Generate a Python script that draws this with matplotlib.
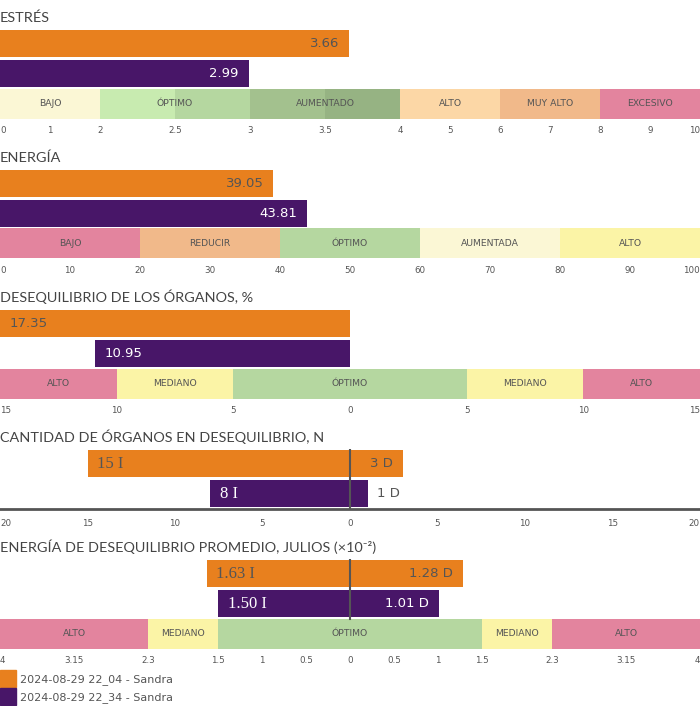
import numpy as np
import matplotlib.pyplot as plt
from matplotlib.patches import Patch

# ── Data ─────────────────────────────────────────────────────────────────────
SERIES = ["2024-08-29 22_04 - Sandra", "2024-08-29 22_34 - Sandra"]

stress = [3.66, 2.99]
energy = [39.05, 43.81]
organ_pct = [17.35, 10.95]          # left side only
organ_n_left = [15, 8]
organ_n_right = [3, 1]
imb_left = [1.63, 1.50]
imb_right = [1.28, 1.01]

stress_ticks = [0, 1, 2, 2.5, 3, 3.5, 4, 5, 6, 7, 8, 9, 10]
stress_zone_edges = [0, 2, 3, 4, 6, 8, 10]
stress_zone_names = ["BAJO", "ÓPTIMO", "AUMENTADO", "ALTO", "MUY ALTO", "EXCESIVO"]
stress_fill_edges = [0, 2, 2.5, 3, 3.5, 4, 6, 8, 10]

energy_ticks = list(range(0, 101, 10))
energy_zone_edges = [0, 20, 40, 60, 80, 100]
energy_zone_names = ["BAJO", "REDUCIR", "ÓPTIMO", "AUMENTADA", "ALTO"]

pct_ticks = [-15, -10, -5, 0, 5, 10, 15]
pct_zone_edges = [-15, -10, -5, 5, 10, 15]
pct_zone_names = ["ALTO", "MEDIANO", "ÓPTIMO", "MEDIANO", "ALTO"]

n_ticks = [-20, -15, -10, -5, 0, 5, 10, 15, 20]

imb_ticks = [-4, -3.15, -2.3, -1.5, -1, -0.5, 0, 0.5, 1, 1.5, 2.3, 3.15, 4]
imb_zone_edges = [-4, -2.3, -1.5, 1.5, 2.3, 4]
imb_zone_names = ["ALTO", "MEDIANO", "ÓPTIMO", "MEDIANO", "ALTO"]

# ── Style ────────────────────────────────────────────────────────────────────
ORANGE = "#E8801E"
PURPLE = "#481668"
TEXT = "#555555"
TITLE = "#444444"
PINK, PEACH, LORANGE = "#E3849E", "#F1B98A", "#FCD7A6"
CREAM, YELLOW = "#FBF7D5", "#FBF4A6"
LGREEN, GREEN, DGREEN, DDGREEN = "#C8EBB0", "#B5D7A0", "#A3C18E", "#96B383"

stress_fill_colors = [CREAM, LGREEN, GREEN, DGREEN, DDGREEN, LORANGE, PEACH, PINK]
energy_zone_colors = [PINK, PEACH, GREEN, CREAM, YELLOW]
sym_zone_colors = [PINK, YELLOW, GREEN, YELLOW, PINK]

W, H = 700, 706
fig = plt.figure(figsize=(W / 100, H / 100), dpi=100)
SANS = ["DejaVu Sans"]
TITLE_FONT = ["Lato", "DejaVu Sans"]
SERIF = ["Liberation Serif", "DejaVu Serif"]


def piecewise(xp, fp):
    def fwd(x):
        x = np.asarray(x, float)
        return np.sign(x) * np.interp(np.abs(x), xp, fp)

    def inv(y):
        y = np.asarray(y, float)
        return np.sign(y) * np.interp(np.abs(y), fp, xp)
    return fwd, inv


def make_axes(top, nrows, title, scale=None):
    h = 30 * nrows
    ax = fig.add_axes([0, 1 - (top - 1.5 + h) / H, 1, h / H])
    if scale is not None:
        ax.set_xscale("function", functions=scale)
    ax.set_ylim(nrows - 0.5, -0.5)
    for s in ax.spines.values():
        s.set_visible(False)
    ax.set_yticks([])
    ax.tick_params(axis="x", length=0, pad=5.5, labelsize=6.3, labelcolor=TEXT)
    fig.text(0.0, 1 - (top - 8) / H, title, va="baseline", ha="left",
             fontsize=10.4, color=TITLE, family=TITLE_FONT)
    return ax


def set_ticks(ax, ticks, labels):
    ax.set_xticks(ticks)
    ax.set_xticklabels(labels, family=SANS)
    tl = ax.get_xticklabels()
    tl[0].set_ha("left")
    tl[-1].set_ha("right")


def fmt(v):
    v = abs(v)
    return f"{v:g}"


def band(ax, fill_edges, fill_colors, zone_edges, zone_names, fwd=None, inv=None):
    for a, b, c in zip(fill_edges[:-1], fill_edges[1:], fill_colors):
        ax.barh(2, b - a, left=a, height=1.0, color=c, linewidth=0)
    for a, b, name in zip(zone_edges[:-1], zone_edges[1:], zone_names):
        mid = (a + b) / 2 if fwd is None else float(inv((fwd(a) + fwd(b)) / 2))
        ax.text(mid, 2, name, ha="center", va="center", fontsize=6.7,
                color=TEXT, family=SANS)


def label(ax, x, row, txt, side, color, family=SANS, size=9.5):
    off = -7 if side == "right" else 7
    ax.annotate(txt, (x, row), xytext=(off, 0), textcoords="offset points",
                ha=side, va="center", color=color, fontsize=size, family=family,
                annotation_clip=False)


colors = [ORANGE, PURPLE]
txt_colors = [TEXT, "white"]

# ── ESTRÉS ───────────────────────────────────────────────────────────────────
s_fwd, s_inv = piecewise([0, 2, 4, 10], [0, 100, 400, 700])
ax = make_axes(30, 3, "ESTRÉS", (s_fwd, s_inv))
ax.set_xlim(0, 10)
for i, v in enumerate(stress):
    ax.barh(i, v, height=0.9, color=colors[i], linewidth=0)
    label(ax, v, i, f"{v:.2f}", "right", txt_colors[i])
band(ax, stress_fill_edges, stress_fill_colors, stress_zone_edges,
     stress_zone_names, s_fwd, s_inv)
set_ticks(ax, stress_ticks, [fmt(t) for t in stress_ticks])

# ── ENERGÍA ──────────────────────────────────────────────────────────────────
ax = make_axes(170, 3, "ENERGÍA")
ax.set_xlim(0, 100)
for i, v in enumerate(energy):
    ax.barh(i, v, height=0.9, color=colors[i], linewidth=0)
    label(ax, v, i, f"{v:.2f}", "right", txt_colors[i])
band(ax, energy_zone_edges, energy_zone_colors, energy_zone_edges, energy_zone_names)
set_ticks(ax, energy_ticks, [fmt(t) for t in energy_ticks])

# ── DESEQUILIBRIO DE LOS ÓRGANOS, % ──────────────────────────────────────────
ax = make_axes(310, 3, "DESEQUILIBRIO DE LOS ÓRGANOS, %")
ax.set_xlim(-15, 15)
for i, v in enumerate(organ_pct):
    ax.barh(i, -v, height=0.9, color=colors[i], linewidth=0)
    label(ax, max(-v, -15), i, f"{v:.2f}", "left", txt_colors[i])
band(ax, pct_zone_edges, sym_zone_colors, pct_zone_edges, pct_zone_names)
set_ticks(ax, pct_ticks, [fmt(t) for t in pct_ticks])

# ── CANTIDAD DE ÓRGANOS EN DESEQUILIBRIO, N ──────────────────────────────────
ax = make_axes(450, 2, "CANTIDAD DE ÓRGANOS EN DESEQUILIBRIO, N")
ax.set_xlim(-20, 20)
ax.spines["bottom"].set_visible(True)
ax.spines["bottom"].set_color(TEXT)
ax.spines["bottom"].set_linewidth(2)
for i in range(2):
    l, r = organ_n_left[i], organ_n_right[i]
    ax.barh(i, -l, height=0.9, color=colors[i], linewidth=0)
    ax.barh(i, r, height=0.9, color=colors[i], linewidth=0)
    label(ax, -l, i, f"{l} I", "left", txt_colors[i], SERIF, 12)
    if r >= 2:
        label(ax, r, i, f"{r} D", "right", txt_colors[i])
    else:
        label(ax, r, i, f"{r} D", "left", TEXT)
ax.axvline(0, color=TEXT, lw=1.5)
set_ticks(ax, n_ticks, [fmt(t) for t in n_ticks])
ax.tick_params(axis="x", pad=7.5)

# ── ENERGÍA DE DESEQUILIBRIO PROMEDIO ────────────────────────────────────────
e_fwd, e_inv = piecewise([0, 1.5, 2.3, 3.15, 4], [0, 132, 202, 276, 350])
ax = make_axes(560, 3, "ENERGÍA DE DESEQUILIBRIO PROMEDIO, JULIOS (×10⁻²)",
               (e_fwd, e_inv))
ax.set_xlim(-4, 4)
for i in range(2):
    l, r = imb_left[i], imb_right[i]
    ax.barh(i, -l, height=0.9, color=colors[i], linewidth=0)
    ax.barh(i, r, height=0.9, color=colors[i], linewidth=0)
    label(ax, -l, i, f"{l:.2f} I", "left", txt_colors[i], SERIF, 12)
    label(ax, r, i, f"{r:.2f} D", "right", txt_colors[i])
ax.axvline(0, ymin=1 / 3, color=TEXT, lw=1.5)
band(ax, imb_zone_edges, sym_zone_colors, imb_zone_edges, imb_zone_names,
     e_fwd, e_inv)
set_ticks(ax, imb_ticks, [fmt(t) for t in imb_ticks])

# ── Legend ───────────────────────────────────────────────────────────────────
fig.legend(handles=[Patch(color=c) for c in colors], labels=SERIES,
           loc="upper left", bbox_to_anchor=(0, 1 - 670 / H), frameon=False,
           handlelength=1.45, handleheight=2.0, handletextpad=0.35,
           borderpad=0, borderaxespad=0, labelspacing=0.05,
           fontsize=8, labelcolor=TEXT)

fig.savefig("out.png", dpi=100)
